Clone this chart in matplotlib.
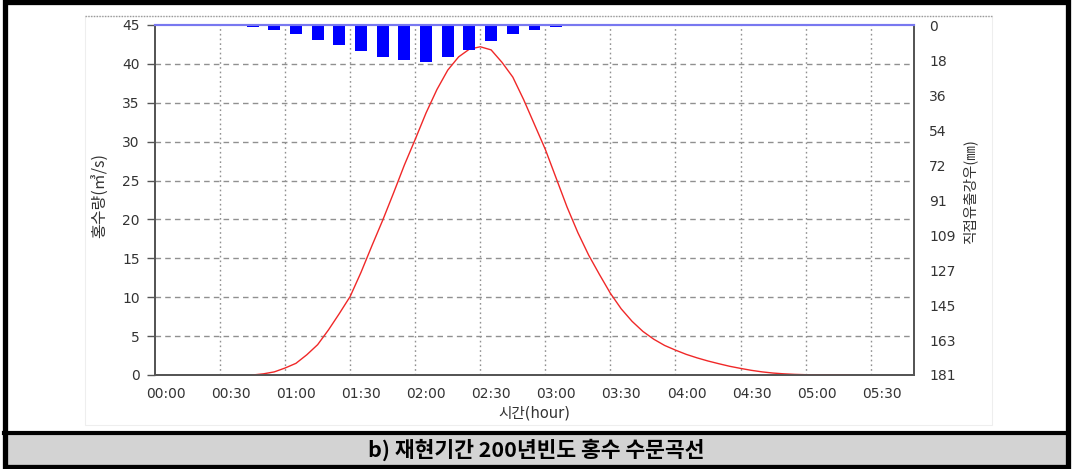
import matplotlib
matplotlib.use("Agg")
import matplotlib.pyplot as plt
import matplotlib.transforms as mtransforms
from matplotlib.patches import Rectangle
from matplotlib.lines import Line2D

plt.rcParams['font.family'] = ['DejaVu Sans', 'Noto Sans CJK KR']
KR = ['Noto Sans CJK KR', 'DejaVu Sans']

# flood hydrograph (minutes from start, discharge m3/s)
flow_time = [45, 50, 55, 60, 65, 70, 75, 80, 85, 90, 95, 100, 105, 110, 115, 120,
             125, 130, 135, 140, 145, 150, 155, 160, 165, 170, 175, 180, 185, 190,
             195, 200, 205, 210, 215, 220, 225, 230, 235, 240, 245, 250, 255, 260,
             265, 270, 275, 280, 285, 290, 295, 300, 305, 310, 315, 320]
flow_q = [0.0, 0.15, 0.4, 0.9, 1.5, 2.6, 3.9, 5.8, 7.9, 10.1, 13.2, 16.6, 19.9, 23.4,
          27.0, 30.3, 33.7, 36.7, 39.2, 40.9, 41.9, 42.2, 41.8, 40.2, 38.3, 35.4,
          32.2, 29.0, 25.3, 21.6, 18.3, 15.4, 12.9, 10.5, 8.5, 6.9, 5.6, 4.6, 3.8,
          3.2, 2.65, 2.2, 1.8, 1.45, 1.12, 0.85, 0.6, 0.4, 0.25, 0.15, 0.08, 0.04,
          0.02, 0.01, 0.0, 0.0]

# effective rainfall per 10 min (mm)
rain_time = [45, 55, 65, 75, 85, 95, 105, 115, 125, 135, 145, 155, 165, 175, 185]
rain_mm = [0.9, 2.8, 4.9, 7.5, 10.2, 13.3, 16.4, 18.0, 18.9, 16.6, 12.8, 8.5, 4.9, 2.5, 1.1]

x_ticks = [0, 30, 60, 90, 120, 150, 180, 210, 240, 270, 300, 330]
x_labels = ["00:00", "00:30", "01:00", "01:30", "02:00", "02:30",
            "03:00", "03:30", "04:00", "04:30", "05:00", "05:30"]
q_ticks = [0, 5, 10, 15, 20, 25, 30, 35, 40, 45]
rain_ticks = [0, 18.1, 36.2, 54.3, 72.4, 90.5, 108.6, 126.7, 144.8, 162.9, 181]
rain_labels = ["0", "18", "36", "54", "72", "91", "109", "127", "145", "163", "181"]

W, H = 1072, 469
fig = plt.figure(figsize=(W / 100, H / 100), dpi=100)


def fx(px):
    return px / W


def fy(py):
    return 1 - py / H


ax = fig.add_axes([fx(155), fy(375), fx(914) - fx(155), fy(25) - fy(375)])
ax2 = ax.twinx()

grid_c = '#909090'
axis_c = '#555555'
text_c = '#333333'

ax.plot(flow_time, flow_q, color='#f02828', lw=1.0, zorder=3)
ax.set_xlim(0, 350)
ax.set_ylim(0, 45)
ax.set_xticks(x_ticks, x_labels)
ax.set_yticks(q_ticks)
for v in q_ticks[1:-1]:
    ax.axhline(v, color=grid_c, lw=1.0, ls=(0, (4, 3)), zorder=1)
for v in x_ticks[1:]:
    ax.axvline(v, color=grid_c, lw=1.0, ls=(0, (1.2, 2.2)), zorder=1)

ax.tick_params(axis='y', direction='out', length=6, width=1, color=axis_c,
               labelsize=10, labelcolor=text_c, pad=5)
ax.tick_params(axis='x', length=0, labelsize=10, labelcolor=text_c, pad=9)
offset = mtransforms.ScaledTranslation(11 / 100, 0, fig.dpi_scale_trans)
for lab in ax.get_xticklabels():
    lab.set_transform(lab.get_transform() + offset)

ax2.bar(rain_time, rain_mm, width=5.5, color='#0000ff', zorder=2)
ax2.set_ylim(181, 0)
ax2.set_yticks(rain_ticks, rain_labels)
ax2.tick_params(axis='y', length=0, labelsize=10, labelcolor=text_c, pad=11)

for a in (ax, ax2):
    for s in ('left', 'bottom', 'right'):
        a.spines[s].set_color(axis_c)
        a.spines[s].set_linewidth(1.3)
    a.spines['top'].set_color('#7878f0')
    a.spines['top'].set_linewidth(1.5)

ax.set_xlabel("시간(hour)", fontsize=10.5, color=text_c, labelpad=3)
fig.text(fx(100), fy(195), "홍수량(㎥/s)", rotation=90, ha='center', va='center',
         fontsize=11.5, color=text_c, family=KR)
fig.text(fx(970), fy(192), "직접유출강우(㎜)", rotation=90, ha='center', va='center',
         fontsize=10.5, color=text_c, family=KR)

# faint panel border around the chart
fig.add_artist(Line2D([fx(85), fx(992)], [fy(16), fy(16)], transform=fig.transFigure,
                      color='#9a9a9a', lw=1.0, ls=(0, (1, 1))))
fig.add_artist(Rectangle((fx(85), fy(425)), fx(992) - fx(85), fy(16) - fy(425),
                         transform=fig.transFigure, fill=False, ec='#eeeeee', lw=0.8))

# caption bar and outer frame
fig.add_artist(Rectangle((fx(5), fy(465)), fx(1067) - fx(5), fy(434) - fy(465),
                         transform=fig.transFigure, fc='#d3d3d3', ec='none'))
fig.add_artist(Line2D([fx(4), fx(1068)], [fy(433), fy(433)], transform=fig.transFigure,
                      color='black', lw=3))
fig.add_artist(Rectangle((fx(4.5), fy(466.5)), fx(1068) - fx(4.5), fy(2.5) - fy(466.5),
                         transform=fig.transFigure, fill=False, ec='black', lw=3.8))
fig.text(fx(536), fy(450), "b) 재현기간 200년빈도 홍수 수문곡선", ha='center', va='center',
         fontsize=15.5, fontweight='bold', color='black', family=KR)

fig.savefig("out.png", dpi=100)
